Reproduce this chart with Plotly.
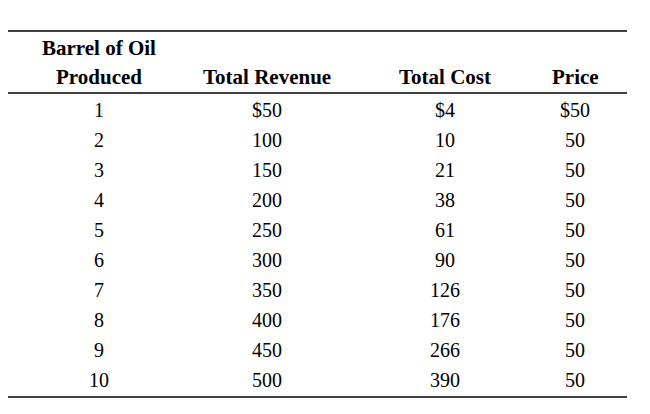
import plotly.graph_objects as go

title = "Table: Barrels of Oil"
headers = ["Produced", "Total Revenue", "Total Cost", "Price"]
header_top = "Barrel of Oil"
barrels = ["1", "2", "3", "4", "5", "6", "7", "8", "9", "10"]
revenue = ["$50", "100", "150", "200", "250", "300", "350", "400", "450", "500"]
cost = ["$4", "10", "21", "38", "61", "90", "126", "176", "266", "390"]
price = ["$50", "50", "50", "50", "50", "50", "50", "50", "50", "50"]

DX, DY = -9, -8
cols_x = [100 + DX, 268 + DX, 446 + DX, 576 + DX]
font = dict(family="Liberation Serif", size=20, color="black")
bold = dict(family="Liberation Serif", size=21, color="black")

fig = go.Figure()
ann = []
ann.append(dict(x=8 + DX, y=15 + DY, text="<b>" + title + "</b>", xanchor="left", yanchor="middle", font=bold, showarrow=False))
ann.append(dict(x=cols_x[0], y=48 + DY, text="<b>" + header_top + "</b>", xanchor="center", yanchor="middle", font=bold, showarrow=False))
for x, h in zip(cols_x, headers):
    ann.append(dict(x=x, y=77 + DY, text="<b>" + h + "</b>", xanchor="center", yanchor="middle", font=bold, showarrow=False))
columns = [barrels, revenue, cost, price]
for i in range(len(barrels)):
    y = 110 + i * 30 + DY
    for x, col in zip(cols_x, columns):
        ann.append(dict(x=x, y=y, text=col[i], xanchor="center", yanchor="middle", font=font, showarrow=False))

shapes = []
for y, w in [(31, 1.5), (93, 1.5), (397, 1.5)]:
    shapes.append(dict(type="line", x0=8 + DX, x1=628 + DX, y0=y + DY, y1=y + DY, line=dict(color="black", width=w)))

fig.update_layout(
    width=650, height=414, margin=dict(l=0, r=0, t=0, b=0),
    paper_bgcolor="white", plot_bgcolor="white",
    xaxis=dict(range=[0, 650], visible=False, fixedrange=True),
    yaxis=dict(range=[414, 0], visible=False, fixedrange=True),
    annotations=ann, shapes=shapes, showlegend=False,
)
fig.write_html("out.html")
